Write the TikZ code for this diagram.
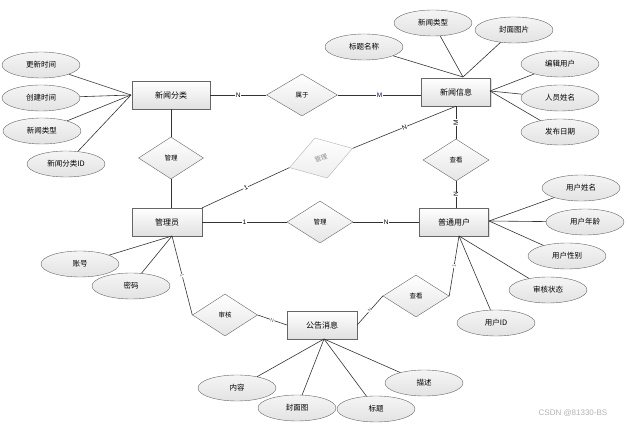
\documentclass[tikz,border=0pt]{standalone}
\usepackage{fontspec}
\setmainfont{Liberation Sans}
\newfontfamily\cjk{Noto Sans CJK SC}
\usetikzlibrary{shapes.geometric,shadows}
\begin{document}
\begin{tikzpicture}[x=1pt,y=-1pt,
 ent/.style={draw=black!60, top color=white, bottom color=black!12, minimum width=69pt, minimum height=28pt, inner sep=0pt, font=\cjk\fontsize{8}{9}\selectfont, drop shadow={shadow xshift=1pt, shadow yshift=-1pt, opacity=0.25}},
 attr/.style={ellipse, draw=black!60, top color=black!4, bottom color=black!11, minimum width=78pt, minimum height=26pt, inner sep=0pt, font=\cjk\fontsize{7.5}{8}\selectfont},
 rel/.style={diamond, draw=black!60, top color=white, bottom color=black!10, minimum width=66pt, minimum height=42pt, inner sep=0pt, font=\cjk\fontsize{6.5}{8}\selectfont},
 lk/.style={draw=black!80, line width=0.6pt},
 lab/.style={fill=white, inner sep=0.6pt, font=\fontsize{6.5}{7}\selectfont},
 slab/.style={fill=white, inner sep=0.4pt, font=\fontsize{5}{6}\selectfont, text=black!60, sloped}
]
\useasboundingbox (0,0) rectangle (627,427);
% entities
\node[ent, minimum width=78pt] (xf) at (171,95) {新闻分类};
\node[ent] (xx) at (456,92) {新闻信息};
\node[ent, minimum width=70pt] (gly) at (167,222) {管理员};
\node[ent] (pt) at (454,222) {普通用户};
\node[ent, minimum width=70pt] (gg) at (322,325) {公告消息};
% relations
\node[rel, minimum width=71pt] (sy) at (302,95) {属于};
\node[rel, minimum width=65pt] (gl1) at (171,158) {管理};
\node[rel] (ck1) at (456,160) {查看};
\node[rel] (gl2) at (320,222) {管理};
\node[rel, draw=black!30, bottom color=black!7, text=black!45, rotate=17] (gk) at (321,158) {管理};
\node[rel, minimum width=65pt] (sh) at (225,315) {审核};
\node[rel] (ck2) at (416,296) {查看};
% anchor points
\coordinate (xfL) at (131,95);
\coordinate (xxT) at (463,77);
\coordinate (xxR) at (490,91);
\coordinate (ptR) at (489,221);
\coordinate (ptB) at (459,236);
\coordinate (glyB) at (172,236);
\coordinate (ggB) at (324,339);
% relation links
\draw[lk] (xf) -- node[lab]{N} (sy);
\draw[lk] (sy.east) -- node[lab, text=blue!45!black]{M} (sy.east -| xx.west);
\draw[lk] (xf) -- (gl1);
\draw[lk] (gl1.south) -- (gl1.south |- gly.north);
\draw[lk] (gly.north east) -- node[lab, sloped]{1} (gk.west);
\draw[lk] (gk.east) -- node[lab, sloped]{N} (xx.south);
\draw[lk] (xx.south) -- node[lab, rotate=90]{M} (ck1.north);
\draw[lk] (ck1.south) -- node[lab, rotate=90]{N} (ck1.south |- pt.north);
\draw[lk] (gly) -- node[lab]{1} (gl2);
\draw[lk] (gl2) -- node[lab]{N} (pt);
\draw[lk] (glyB) -- node[slab]{1} (sh.west);
\draw[lk] (sh.east) -- node[slab]{N} (gg.west);
\draw[lk] (ck2.west) -- node[slab]{N} (gg.east);
\draw[lk] (ptB) -- node[slab]{1} (ck2.east);
% attributes of 新闻分类
\node[attr] (a1) at (41,65) {更新时间};
\node[attr] (a2) at (41,98) {创建时间};
\node[attr] (a3) at (42,131) {新闻类型};
\node[attr] (a4) at (66,164) {新闻分类ID};
\foreach \a in {a1,a2,a3,a4} \draw[lk] (\a) -- (xfL);
% attributes of 新闻信息
\node[attr] (b1) at (364,47) {标题名称};
\node[attr] (b2) at (433,23) {新闻类型};
\node[attr] (b3) at (514,30) {封面图片};
\foreach \a in {b1,b2,b3} \draw[lk] (\a) -- (xxT);
\node[attr] (b4) at (560,64) {编辑用户};
\node[attr] (b5) at (560,98) {人员姓名};
\node[attr] (b6) at (560,132) {发布日期};
\foreach \a in {b4,b5,b6} \draw[lk] (\a) -- (xxR);
% attributes of 普通用户
\node[attr] (c1) at (581,188) {用户姓名};
\node[attr] (c2) at (585,222) {用户年龄};
\node[attr] (c3) at (567,256) {用户性别};
\foreach \a in {c1,c2,c3} \draw[lk] (\a) -- (ptR);
\node[attr] (c4) at (548,290) {审核状态};
\node[attr] (c5) at (496,323) {用户ID};
\foreach \a in {c4,c5} \draw[lk] (\a) -- (ptB);
% attributes of 管理员
\node[attr] (d1) at (80,264) {账号};
\node[attr] (d2) at (131,286) {密码};
\foreach \a in {d1,d2} \draw[lk] (\a) -- (glyB);
% attributes of 公告消息
\node[attr] (e1) at (237,388) {内容};
\node[attr] (e4) at (424,383) {描述};
\node[attr] (e2) at (297,408) {封面图};
\node[attr] (e3) at (376,409) {标题};
\foreach \a in {e1,e2,e3,e4} \draw[lk] (\a) -- (ggB);
% watermark
\node[text=black!30, font=\fontsize{8}{9}\selectfont] (wm) at (573,413) {CSDN @81330-BS};
\end{tikzpicture}
\end{document}
